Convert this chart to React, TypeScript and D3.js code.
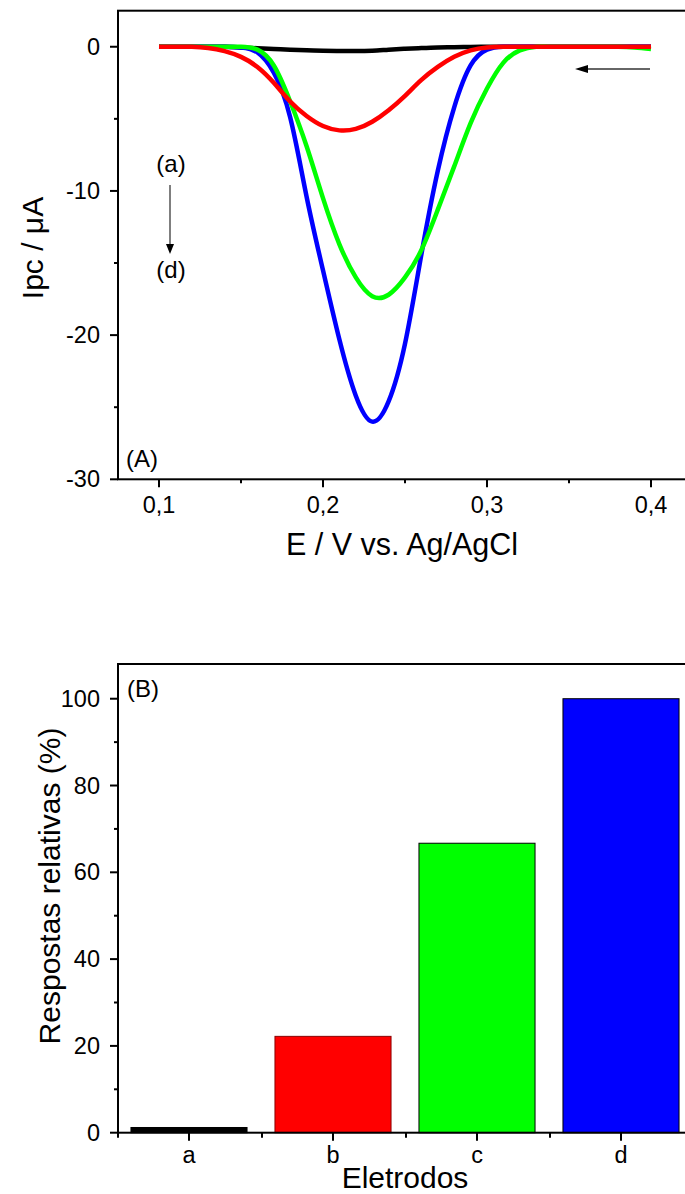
import * as d3 from "d3";

// potential (V) for the voltammograms
const potentials = [
  0.10, 0.11, 0.12, 0.13, 0.14, 0.15, 0.16, 0.17, 0.18, 0.19, 0.20,
  0.21, 0.22, 0.23, 0.24, 0.25, 0.26, 0.27, 0.28, 0.29, 0.30,
  0.31, 0.32, 0.33, 0.34, 0.35, 0.36, 0.37, 0.38, 0.39, 0.40,
];

// current (µA) for electrodes a..d
const curveA = [
  0, 0, 0, 0, 0, -0.05, -0.1, -0.15, -0.2, -0.25, -0.28,
  -0.3, -0.3, -0.27, -0.2, -0.14, -0.09, -0.05, -0.03, -0.01, 0,
  0, 0, 0, 0, 0, 0, 0, 0, 0, 0,
];
const curveB = [
  0, 0, 0, -0.08, -0.3, -0.7, -1.4, -2.5, -3.8, -4.8, -5.5,
  -5.8, -5.7, -5.2, -4.4, -3.4, -2.3, -1.4, -0.7, -0.25, -0.05,
  0, 0, 0, 0, 0, 0, 0, 0, 0, 0,
];
const curveC = [
  0, 0, 0, 0, 0, 0, -0.2, -1.3, -3.8, -6.9, -10.5,
  -13.7, -16.0, -17.3, -17.2, -16.0, -14.1, -11.3, -8.3, -5.3, -2.9,
  -1.1, -0.25, 0, 0, 0, 0, 0, 0, -0.05, -0.15,
];
const curveD = [
  0, 0, 0, 0, 0, -0.05, -0.4, -1.8, -4.9, -10.4, -15.5,
  -20.3, -24.2, -26.0, -24.6, -20.6, -14.4, -8.6, -4.2, -1.3, -0.2,
  0, 0, 0, 0, 0, 0, 0, 0, 0, 0,
];

const xTicksA = [0.1, 0.2, 0.3, 0.4];
const xMinorA = [0.15, 0.25, 0.35];
const yTicksA = [0, -10, -20, -30];
const yMinorA = [-5, -15, -25];

// relative responses (%)
const electrodes = ["a", "b", "c", "d"];
const responses = [1.2, 22.2, 66.7, 100];
const barColors = ["#000000", "#ff0000", "#00ff00", "#0000ff"];
const yTicksB = [0, 20, 40, 60, 80, 100];
const yMinorB = [10, 30, 50, 70, 90];

const FONT = "'Liberation Sans', Arial, sans-serif";

export default function App() {
  // panel A
  const x = d3.scaleLinear().domain([0.075, 0.425]).range([118, 692]);
  const y = d3.scaleLinear().domain([-30, 2.5]).range([479.3, 10.7]);
  const line = d3
    .line<number>()
    .x((_, i) => x(potentials[i]))
    .y(d => y(d))
    .curve(d3.curveNatural);
  const series = [
    { vals: curveA, color: "#000000" },
    { vals: curveD, color: "#0000ff" },
    { vals: curveC, color: "#00ff00" },
    { vals: curveB, color: "#ff0000" },
  ];
  const leftA = x.range()[0];
  const bottomA = y.range()[0];

  // panel B
  const xb = d3
    .scaleBand<string>()
    .domain(electrodes)
    .range([117, 693])
    .paddingInner(0.194)
    .paddingOuter(0.097);
  const yb = d3.scaleLinear().domain([0, 108]).range([1132.7, 664]);
  const leftB = xb.range()[0];
  const bottomB = yb(0);
  const step = xb.step();
  const xMinorB = electrodes.map((_, i) => leftB + step * i);

  return (
    <svg
      width={685}
      height={1194}
      style={{ position: "absolute", left: 0, top: 0 }}
      fontFamily={FONT}
    >
      {/* ---------- panel A ---------- */}
      {series.map((s, i) => (
        <path
          key={i}
          d={line(s.vals) ?? ""}
          fill="none"
          stroke={s.color}
          strokeWidth={4.5}
          strokeLinejoin="round"
        />
      ))}
      <rect
        x={leftA}
        y={y.range()[1]}
        width={x.range()[1] - leftA}
        height={bottomA - y.range()[1]}
        fill="none"
        stroke="#000"
        strokeWidth={2}
      />
      {yTicksA.map(t => (
        <g key={t}>
          <line x1={leftA - 8} x2={leftA} y1={y(t)} y2={y(t)} stroke="#000" strokeWidth={2} />
          <text x={leftA - 18} y={y(t) + 8} textAnchor="end" fontSize={23.5}>
            {t}
          </text>
        </g>
      ))}
      {yMinorA.map(t => (
        <line key={t} x1={leftA - 4} x2={leftA} y1={y(t)} y2={y(t)} stroke="#000" strokeWidth={2} />
      ))}
      {xTicksA.map(t => (
        <g key={t}>
          <line x1={x(t)} x2={x(t)} y1={bottomA} y2={bottomA + 8} stroke="#000" strokeWidth={2} />
          <text x={x(t)} y={bottomA + 34} textAnchor="middle" fontSize={23.5}>
            {String(t).replace(".", ",")}
          </text>
        </g>
      ))}
      {xMinorA.map(t => (
        <line key={t} x1={x(t)} x2={x(t)} y1={bottomA} y2={bottomA + 4} stroke="#000" strokeWidth={2} />
      ))}
      <text x={402} y={555} textAnchor="middle" fontSize={30.5}>
        E / V vs. Ag/AgCl
      </text>
      <text transform="translate(43,248) rotate(-90)" textAnchor="middle" fontSize={30}>
        Ipc / μA
      </text>
      <text x={126} y={467} fontSize={24}>(A)</text>
      <text x={171} y={172} textAnchor="middle" fontSize={24}>(a)</text>
      <text x={171} y={278} textAnchor="middle" fontSize={24}>(d)</text>
      <line x1={170} x2={170} y1={185} y2={246} stroke="#555" strokeWidth={1.5} />
      <path d="M166,244 L174,244 L170,254 Z" fill="#000" />
      <line x1={650} x2={585} y1={69} y2={69} stroke="#333" strokeWidth={1.5} />
      <path d="M575,69 L588,65 L588,73 Z" fill="#000" />

      {/* ---------- panel B ---------- */}
      {electrodes.map((e, i) => (
        <rect
          key={e}
          x={xb(e)}
          y={yb(responses[i])}
          width={xb.bandwidth()}
          height={bottomB - yb(responses[i])}
          fill={barColors[i]}
          stroke={i === 1 ? "#8b0000" : "#000"}
          strokeWidth={1}
        />
      ))}
      <rect
        x={leftB + 1}
        y={yb.range()[1]}
        width={xb.range()[1] - leftB}
        height={bottomB - yb.range()[1]}
        fill="none"
        stroke="#000"
        strokeWidth={2}
      />
      {yTicksB.map(t => (
        <g key={t}>
          <line x1={leftB - 7} x2={leftB + 1} y1={yb(t)} y2={yb(t)} stroke="#000" strokeWidth={2} />
          <text x={leftB - 17} y={yb(t) + 8} textAnchor="end" fontSize={23.5}>
            {t}
          </text>
        </g>
      ))}
      {yMinorB.map(t => (
        <line key={t} x1={leftB - 3} x2={leftB + 1} y1={yb(t)} y2={yb(t)} stroke="#000" strokeWidth={2} />
      ))}
      {electrodes.map(e => (
        <g key={e}>
          <line
            x1={xb(e)! + xb.bandwidth() / 2}
            x2={xb(e)! + xb.bandwidth() / 2}
            y1={bottomB}
            y2={bottomB + 8}
            stroke="#000"
            strokeWidth={2}
          />
          <text x={xb(e)! + xb.bandwidth() / 2} y={1163} textAnchor="middle" fontSize={23.5}>
            {e}
          </text>
        </g>
      ))}
      {xMinorB.map((v, i) => (
        <line key={i} x1={v + 1} x2={v + 1} y1={bottomB} y2={bottomB + 5} stroke="#000" strokeWidth={2} />
      ))}
      <text x={405} y={1188} textAnchor="middle" fontSize={30}>
        Eletrodos
      </text>
      <text transform="translate(60,886) rotate(-90)" textAnchor="middle" fontSize={30}>
        Respostas relativas (%)
      </text>
      <text x={127} y={697} fontSize={24}>(B)</text>
    </svg>
  );
}
